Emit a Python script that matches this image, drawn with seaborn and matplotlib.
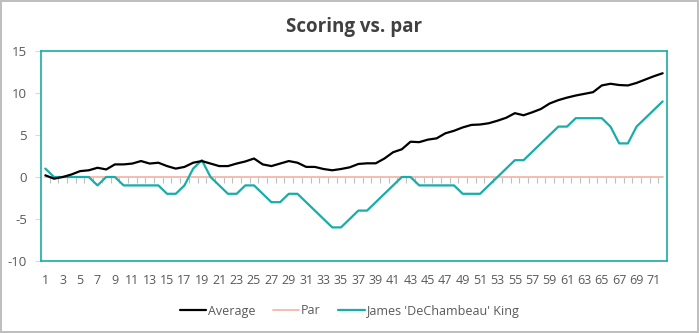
import numpy as np
import pandas as pd
import matplotlib
matplotlib.use("Agg")
import matplotlib.pyplot as plt
import seaborn as sns

# ---- data ----
holes = list(range(1, 73))
average = [0.2, -0.2, 0.0, 0.3, 0.7, 0.8, 1.1, 0.9, 1.5, 1.5,
           1.6, 1.9, 1.6, 1.7, 1.3, 1.0, 1.2, 1.7, 1.9, 1.6,
           1.3, 1.3, 1.6, 1.85, 2.2, 1.5, 1.3, 1.6, 1.9, 1.7,
           1.2, 1.2, 0.95, 0.8, 0.95, 1.15, 1.55, 1.63, 1.63, 2.2,
           2.95, 3.3, 4.2, 4.15, 4.45, 4.6, 5.2, 5.5, 5.9, 6.2,
           6.25, 6.4, 6.7, 7.05, 7.6, 7.35, 7.7, 8.1, 8.75, 9.15,
           9.45, 9.7, 9.9, 10.1, 10.9, 11.1, 10.95, 10.9, 11.2, 11.6,
           12.0, 12.35]
par = [0] * 72
king = [1, 0, 0, 0, 0, 0, -1, 0, 0, -1,
        -1, -1, -1, -1, -2, -2, -1, 1, 2, 0,
        -1, -2, -2, -1, -1, -2, -3, -3, -2, -2,
        -3, -4, -5, -6, -6, -5, -4, -4, -3, -2,
        -1, 0, 0, -1, -1, -1, -1, -1, -2, -2,
        -2, -1, 0, 1, 2, 2, 3, 4, 5, 6,
        6, 7, 7, 7, 7, 6, 4, 4, 6, 7,
        8, 9]
series_names = ["Average", "Par", "James 'DeChambeau' King"]
series_colors = ["#000000", "#F4B8AA", "#17ADA8"]
y_ticks = [-10, -5, 0, 5, 10, 15]
x_tick_labels = [str(h) for h in holes[::2]]

df = pd.DataFrame({
    "hole": holes * 3,
    "score": average + par + king,
    "series": [series_names[0]] * 72 + [series_names[1]] * 72 + [series_names[2]] * 72,
})

sns.set_theme(style="white")
plt.rcParams["font.family"] = ["Open Sans", "DejaVu Sans"]

fig = plt.figure(figsize=(6.99, 3.33), dpi=100)
fig.patch.set_facecolor("white")
fig.patch.set_edgecolor("#BFBFBF")
fig.patch.set_linewidth(1.5)
ax = fig.add_axes([41 / 699, 1 - 261 / 333, (667 - 41) / 699, (261 - 51) / 333])

palette = dict(zip(series_names, series_colors))
sns.lineplot(data=df[df.series == "Par"], x="hole", y="score", color=palette["Par"],
             lw=1.3, ax=ax, legend=False, zorder=2)
sns.lineplot(data=df[df.series == "James 'DeChambeau' King"], x="hole", y="score",
             color=palette["James 'DeChambeau' King"], lw=1.6, ax=ax, legend=False, zorder=3)
sns.lineplot(data=df[df.series == "Average"], x="hole", y="score", color=palette["Average"],
             lw=1.6, ax=ax, legend=False, zorder=4)

ax.set_xlim(0.5, 72.5)
ax.set_ylim(-10, 15)
ax.set_yticks(y_ticks)
ax.set_yticklabels([str(v) for v in y_ticks])
ax.set_xticks(holes[::2])
ax.set_xticklabels(x_tick_labels)
ax.set_xlabel("")
ax.set_ylabel("")
ax.tick_params(axis="x", length=0, pad=9, labelsize=9, labelcolor="#595959")
ax.tick_params(axis="y", length=4, width=0.8, color="#D9D9D9", pad=6, labelsize=9.5,
               labelcolor="#595959", left=True)
for sp in ax.spines.values():
    sp.set_visible(True)
    sp.set_color("#17ADA8")
    sp.set_linewidth(1.2)

# category-boundary tick marks on the zero line
sec = ax.secondary_xaxis(0.4)
sec.set_xticks([h + 0.5 for h in holes[:-1]])
sec.tick_params(axis="x", length=4, width=0.8, color="#BFBFBF", labelbottom=False, direction="out")
sec.spines["bottom"].set_visible(False)

ax.set_title("Scoring vs. par", fontsize=13.5, fontweight="bold", color="#404040", pad=14)

handles = [plt.Line2D([], [], color=c, lw=1.6 if n != "Par" else 1.3) for n, c in zip(series_names, series_colors)]
fig.legend(handles, series_names, loc="center", bbox_to_anchor=(0.5, 1 - 311 / 333), ncol=3,
           frameon=False, fontsize=9, handlelength=2.1, handletextpad=0.15, columnspacing=1.4,
           labelcolor="#595959")

fig.savefig("out.png", dpi=100, facecolor=fig.get_facecolor(), edgecolor=fig.get_edgecolor())
